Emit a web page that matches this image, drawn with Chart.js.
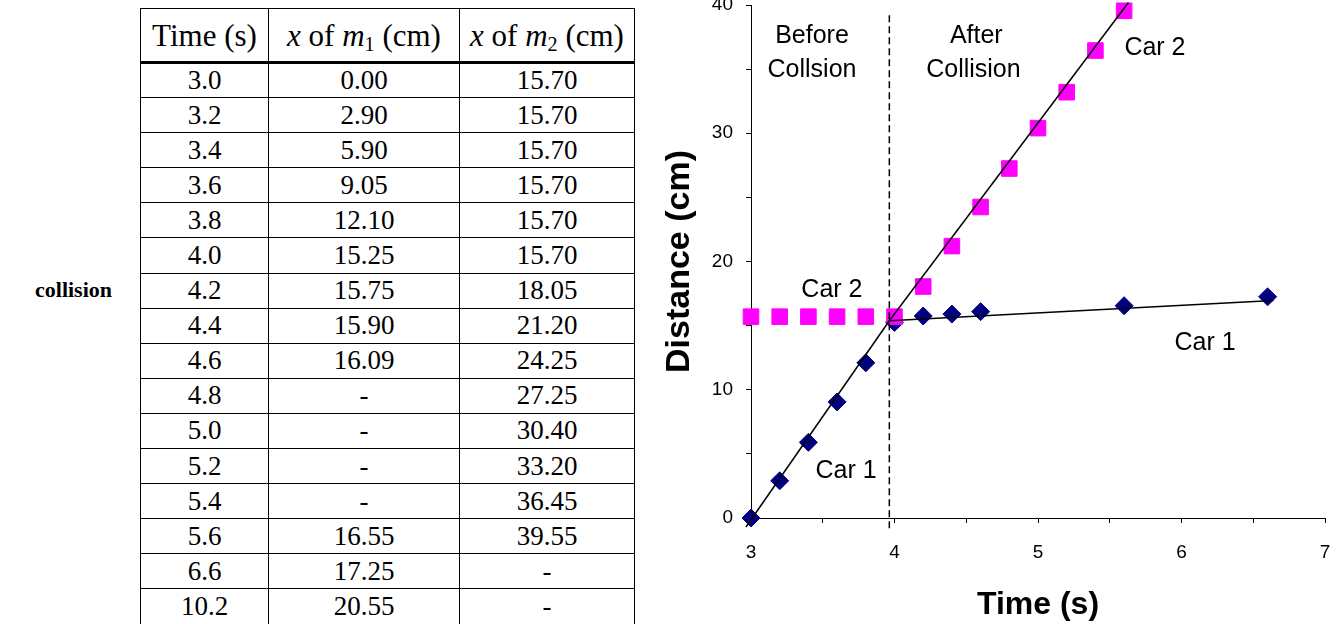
<!DOCTYPE html>
<html>
<head>
<meta charset="utf-8">
<script src="https://cdn.jsdelivr.net/npm/chart.js@4.4.1/dist/chart.umd.min.js"></script>
<style>
  html, body { margin: 0; padding: 0; background: #fff; }
  body { width: 1341px; height: 624px; position: relative; overflow: hidden; }
  .side { position: absolute; left: 35px; top: 277px; font: bold 22px "Liberation Serif", "Times New Roman", serif; color: #000; }
  table { position: absolute; left: 140px; top: 8px; width: 494px; border-collapse: collapse; table-layout: fixed;
          font-family: "Liberation Serif", "Times New Roman", serif; font-size: 27px; color: #000; }
  td, th { border: 1.5px solid #000; text-align: center; padding: 0; line-height: 1; }
  th { font-weight: normal; font-size: 31px; border-bottom: 3px solid #000; white-space: nowrap; }
  thead tr { height: 54px; }
  tbody tr { height: 35.1px; }
  sub { font-size: 0.65em; vertical-align: -0.25em; line-height: 0; }
  #chartBox { position: absolute; left: 650px; top: 0; width: 691px; height: 624px; }
</style>
</head>
<body>
<div class="side">collision</div>
<table id="dataTable">
  <colgroup><col style="width:128px"><col style="width:191px"><col style="width:175px"></colgroup>
  <thead>
    <tr><th>Time (s)</th><th><i>x</i> of <i>m</i><sub>1</sub> (cm)</th><th><i>x</i> of <i>m</i><sub>2</sub> (cm)</th></tr>
  </thead>
  <tbody id="tableBody"></tbody>
</table>
<div id="chartBox"><canvas id="motionChart"></canvas></div>
<script>
// table columns (also the source of the plotted points)
const tableTimes = ['3.0', '3.2', '3.4', '3.6', '3.8', '4.0', '4.2', '4.4', '4.6', '4.8', '5.0', '5.2', '5.4', '5.6', '6.6', '10.2']
const tableM1 = ['0.00', '2.90', '5.90', '9.05', '12.10', '15.25', '15.75', '15.90', '16.09', '-', '-', '-', '-', '16.55', '17.25', '20.55']
const tableM2 = ['15.70', '15.70', '15.70', '15.70', '15.70', '15.70', '18.05', '21.20', '24.25', '27.25', '30.40', '33.20', '36.45', '39.55', '-', '-']

// hand drawn trend lines
const car1BeforeFit = [{ x: 2.965, y: -0.7 }, { x: 3.964, y: 15.38 }]
const car1AfterFit = [{ x: 3.964, y: 15.38 }, { x: 6.64, y: 16.95 }]
const car2AfterFit = [{ x: 3.964, y: 15.38 }, { x: 5.63, y: 40.2 }]
const collisionMark = [{ x: 3.964, y: -0.8 }, { x: 3.964, y: 39.5 }]

// axes
const xRange = [3, 7]
const yRange = [0, 40]

// text placed on the plot (data units)
const notes = [
  { text: 'Before', x: 3.425, y: 37.6 },
  { text: 'Collsion', x: 3.425, y: 34.95 },
  { text: 'After', x: 4.57, y: 37.6 },
  { text: 'Collision', x: 4.55, y: 34.95 },
  { text: 'Car 2', x: 5.815, y: 36.65 },
  { text: 'Car 2', x: 3.564, y: 17.78 },
  { text: 'Car 1', x: 6.164, y: 13.65 },
  { text: 'Car 1', x: 3.662, y: 3.66 }
]

function fillTable() {
  const body = document.getElementById('tableBody')
  tableTimes.forEach((t, i) => {
    const tr = document.createElement('tr')
    ;[t, tableM1[i], tableM2[i]].forEach(v => {
      const td = document.createElement('td')
      td.textContent = v
      tr.appendChild(td)
    })
    body.appendChild(tr)
  })
}

function toPoints(col) {
  return tableTimes
    .map((t, i) => ({ x: parseFloat(t), y: parseFloat(col[i]) }))
    .filter(p => !isNaN(p.y) && p.x <= xRange[1])
}

const notesPlugin = {
  id: 'notes',
  afterDatasetsDraw(chart) {
    const { ctx, scales } = chart
    ctx.save()
    ctx.font = '25px "Liberation Sans", Arial, sans-serif'
    ctx.fillStyle = '#000'
    ctx.textAlign = 'center'
    ctx.textBaseline = 'middle'
    notes.forEach(n => ctx.fillText(n.text, scales.x.getPixelForValue(n.x), scales.y.getPixelForValue(n.y)))
    ctx.restore()
  }
}

function trend(data, dash) {
  return {
    data: data,
    showLine: true,
    borderColor: '#000',
    borderWidth: 1.5,
    borderDash: dash || [],
    pointRadius: 0,
    clip: false
  }
}

fillTable()

const tickFont = { family: '"Liberation Sans", Arial, sans-serif', size: 19 }

new Chart(document.getElementById('motionChart'), {
  type: 'scatter',
  data: {
    datasets: [
      trend(car1BeforeFit),
      trend(car1AfterFit),
      trend(car2AfterFit),
      trend(collisionMark, [7, 4]),
      {
        label: 'Car 2',
        data: toPoints(tableM2),
        pointStyle: 'rect',
        pointRadius: 11,
        backgroundColor: '#ff00ff',
        borderColor: '#ff00ff',
        borderWidth: 1,
        clip: false
      },
      {
        label: 'Car 1',
        data: toPoints(tableM1),
        pointStyle: 'rectRot',
        pointRadius: 9,
        backgroundColor: '#000080',
        borderColor: '#000080',
        borderWidth: 1,
        clip: false
      }
    ]
  },
  options: {
    responsive: true,
    maintainAspectRatio: false,
    animation: false,
    layout: { autoPadding: false, padding: { top: 5, right: 16, left: 0, bottom: 0 } },
    plugins: { legend: { display: false }, tooltip: { enabled: false } },
    scales: {
      x: {
        type: 'linear',
        min: xRange[0],
        max: xRange[1],
        border: { color: '#000', width: 1 },
        grid: { drawOnChartArea: false, drawTicks: true, tickLength: 5, color: '#000' },
        ticks: {
          stepSize: 0.5,
          color: '#000',
          font: tickFont,
          padding: 18,
          maxRotation: 0,
          autoSkip: false,
          callback: v => Number.isInteger(v) ? String(v) : ''
        },
        title: {
          display: true, text: 'Time (s)', color: '#000',
          font: { family: '"Liberation Sans", Arial, sans-serif', size: 32, weight: 'bold' },
          padding: { top: 0, bottom: 0 }
        },
        afterFit(s) { s.height = 106; s.paddingLeft = 0; s.paddingRight = 0 }
      },
      y: {
        type: 'linear',
        min: yRange[0],
        max: yRange[1],
        border: { color: '#000', width: 1 },
        grid: { drawOnChartArea: false, drawTicks: true, tickLength: 5, color: '#000' },
        ticks: {
          stepSize: 5,
          color: '#000',
          font: tickFont,
          padding: 13,
          autoSkip: false,
          callback: v => v % 10 === 0 ? String(v) : ''
        },
        title: {
          display: true, text: 'Distance (cm)', color: '#000',
          font: { family: '"Liberation Sans", Arial, sans-serif', size: 34, weight: 'bold' },
          padding: { top: 9, bottom: 0 }
        },
        afterFit(s) { s.width = 101; s.paddingTop = 0; s.paddingBottom = 0 }
      }
    }
  },
  plugins: [notesPlugin]
})
</script>
</body>
</html>
